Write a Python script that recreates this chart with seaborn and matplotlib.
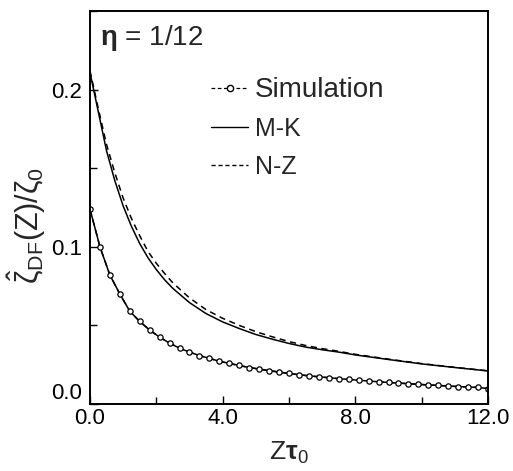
import matplotlib
matplotlib.use("Agg")
import matplotlib.pyplot as plt
import seaborn as sns
from matplotlib.ticker import MultipleLocator, FixedLocator
from matplotlib.lines import Line2D

sns.set_theme(style="white")
plt.rcParams["font.family"] = ["Liberation Sans", "DejaVu Sans"]
plt.rcParams["mathtext.fontset"] = "custom"
plt.rcParams["mathtext.rm"] = "Liberation Sans"
plt.rcParams["mathtext.it"] = "Liberation Sans"
plt.rcParams["mathtext.bf"] = "Liberation Sans:bold"

# Simulation (sampled every 0.3 in Z*tau0)
sim_z = [round(0.3 * i, 1) for i in range(41)]
sim_val = [0.124, 0.100, 0.082, 0.070, 0.059, 0.0525, 0.047, 0.0425, 0.0387, 0.0355,
           0.0330, 0.0308, 0.0290, 0.0272, 0.0258, 0.0245, 0.0232, 0.0222, 0.0212, 0.0203,
           0.0194, 0.0186, 0.0179, 0.0173, 0.0167, 0.0161, 0.0156, 0.0151, 0.0146, 0.0141,
           0.0137, 0.0133, 0.0129, 0.0125, 0.0121, 0.0118, 0.0114, 0.0111, 0.0108, 0.0105,
           0.0098]

# Theory curves, lower branch (coincide with simulation)
low_mk = list(sim_val)
low_nz = list(sim_val)

# Theory curves, upper branch
up_z = [0.0, 0.25, 0.5, 0.75, 1.0, 1.25, 1.5, 1.75, 2.0, 2.25, 2.5, 3.0, 3.5, 4.0,
        4.5, 5.0, 5.5, 6.0, 6.5, 7.0, 7.5, 8.0, 9.0, 10.0, 11.0, 12.0]
up_mk = [0.211, 0.186, 0.161, 0.142, 0.126, 0.113, 0.102, 0.093, 0.0855, 0.0790, 0.0735,
         0.0645, 0.0575, 0.0522, 0.0480, 0.0442, 0.0412, 0.0385, 0.0362, 0.0345, 0.0330,
         0.0312, 0.0283, 0.0255, 0.0232, 0.0210]
up_nz = [0.212, 0.188, 0.165, 0.147, 0.131, 0.118, 0.107, 0.097, 0.0895, 0.0830, 0.0770,
         0.0675, 0.0600, 0.0545, 0.0500, 0.0460, 0.0427, 0.0397, 0.0372, 0.0352, 0.0335,
         0.0316, 0.0285, 0.0257, 0.0233, 0.0211]

x_ticks = [0.0, 4.0, 8.0, 12.0]
x_ticklabels = ["0.0", "4.0", "8.0", "12.0"]
y_ticks = [0.0, 0.1, 0.2]
y_ticklabels = ["0.0", "0.1", "0.2"]

fig = plt.figure(figsize=(5.13, 4.71), dpi=100)
ax = fig.add_axes([0.1754, 0.1423, 0.7759, 0.8343])

sns.lineplot(x=up_z, y=up_mk, ax=ax, color="black", lw=1.1, linestyle="-")
sns.lineplot(x=up_z, y=up_nz, ax=ax, color="black", lw=1.1, linestyle=(0, (4, 3)))
sns.lineplot(x=sim_z, y=low_mk, ax=ax, color="black", lw=1.1, linestyle="-")
sns.lineplot(x=sim_z, y=low_nz, ax=ax, color="black", lw=1.1, linestyle=(0, (4, 3)))
sns.lineplot(x=sim_z, y=sim_val, ax=ax, color="black", lw=0, marker="o", markersize=3.8,
             markerfacecolor="white", markeredgecolor="black", markeredgewidth=0.9)

ax.set_xlim(0, 12)
ax.set_ylim(0, 0.25)
ax.xaxis.set_major_locator(FixedLocator(x_ticks))
ax.set_xticklabels(x_ticklabels)
ax.xaxis.set_minor_locator(MultipleLocator(2.0))
ax.yaxis.set_major_locator(FixedLocator(y_ticks))
ax.set_yticklabels(y_ticklabels)
ax.yaxis.set_minor_locator(MultipleLocator(0.05))
ax.tick_params(which="both", direction="in", bottom=True, left=True, top=False, right=False,
               labelsize=16, colors="black")
ax.tick_params(which="major", length=6, width=1.0)
ax.tick_params(which="minor", length=5, width=1.0)
ax.tick_params(axis="x", which="major", pad=3)
ax.tick_params(axis="y", which="major", pad=6)
# lowest y label sits just above the x axis so it clears the "0.0" below it
ax.get_yticklabels()[0].set_verticalalignment("bottom")
for s in ax.spines.values():
    s.set_color("black")
    s.set_linewidth(1.4)

ax.set_xlabel(r"Z$\mathbf{\tau}_0$", fontsize=19, labelpad=8)
ax.set_ylabel(r"$\hat{\zeta}_{\rm DF}(Z)/\zeta_0$", fontsize=22)
ax.yaxis.set_label_coords(-0.105, 0.455)

ax.text(0.3, 0.233, r"$\mathbf{\eta}$ = 1/12", fontsize=20, ha="left", va="center")

handles = [
    Line2D([], [], color="black", lw=0.9, linestyle=(0, (3, 2)), marker="o", markersize=4.5,
           markerfacecolor="white", markevery=[0, 1]),
    Line2D([], [], color="black", lw=1.0, linestyle="-"),
    Line2D([], [], color="black", lw=1.0, linestyle=(0, (3, 2))),
]
leg = ax.legend(handles, ["Simulation", "M-K", "N-Z"], loc="upper left",
                bbox_to_anchor=(0.305, 0.832), frameon=False, fontsize=18,
                borderpad=0, borderaxespad=0,
                handlelength=1.45, handletextpad=0.3, labelspacing=0.55)
leg.get_texts()[0].set_fontsize(20)

fig.savefig("out.png", dpi=100)
